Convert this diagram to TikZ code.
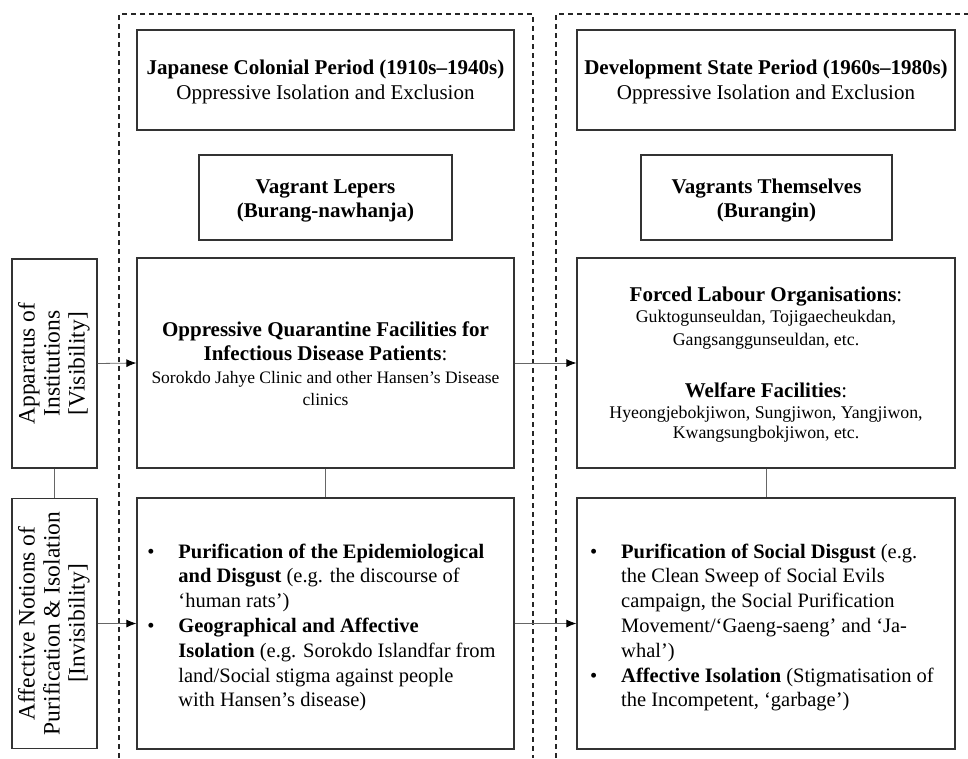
\documentclass[tikz,border=0pt]{standalone}
\usepackage{fontspec}
\setmainfont{Liberation Serif}
\usetikzlibrary{arrows.meta}
\newcommand\lowered[2]{\raisebox{-#1}[\height][\depth]{#2}}
\begin{document}
\begin{tikzpicture}[x=1pt,y=-1pt,
  box/.style={draw=black!80, line width=1.2pt, inner sep=0pt, align=center, text=black},
  link/.style={draw=black!60, line width=0.8pt},
  arr/.style={link, -{Latex[length=10pt,width=8pt,color=black]}},
  frame/.style={draw=black!85, line width=1.1pt, dash pattern=on 5pt off 4pt},
  big/.style={font=\fontsize{21}{24.5}\selectfont},
  side/.style={font=\fontsize{23.5}{25}\selectfont},
]
\useasboundingbox (0,0) rectangle (968,758);
% dashed period frames
\draw[frame] (119,758) -- (119,14) -- (533,14) -- (533,758);
\draw[frame] (556,758) -- (556,14) -- (968,14);

% side labels (rotated)
\node[box, side, rotate=90, minimum width=209, minimum height=85] (apL) at (54.5,363.5)
  {\begin{tabular}{@{}c@{}}Apparatus of\\ Institutions\\ {[}Visibility{]}\end{tabular}};
\node[box, side, rotate=90, minimum width=250, minimum height=85] (afL) at (54.5,623.5)
  {\begin{tabular}{@{}c@{}}Affective Notions of\\ Purification \& Isolation\\ {[}Invisibility{]}\end{tabular}};

% left period
\node[box, big, minimum width=377, minimum height=100] (tL) at (325.5,80)
  {\lowered{2pt}{\begin{tabular}{@{}c@{}}\textbf{Japanese Colonial Period (1910s–1940s)}\\ Oppressive Isolation and Exclusion\end{tabular}}};
\node[box, big, minimum width=253, minimum height=85] (vL) at (325.5,197.5)
  {\lowered{3pt}{\begin{tabular}{@{}c@{}}\textbf{Vagrant Lepers}\\ \textbf{(Burang-nawhanja)}\end{tabular}}};
\node[box, big, minimum width=377, minimum height=210] (mL) at (325.5,363)
  {\lowered{3pt}{\begin{tabular}{@{}c@{}}\textbf{Oppressive Quarantine Facilities for}\\ \textbf{Infectious Disease Patients}:\\[-2pt]
   {\fontsize{17.5}{22}\selectfont Sorokdo Jahye Clinic and other Hansen’s Disease}\\[-2pt]
   {\fontsize{17.5}{22}\selectfont clinics}\end{tabular}}};
\node[box, minimum width=377, minimum height=251] (bL) at (325.5,623.5)
  {\lowered{4pt}{\fontsize{20.5}{24.8}\selectfont\begin{tabular}{@{}p{31pt}@{}l@{\hspace{8pt}}}
   \textbullet & \textbf{Purification of the Epidemiological}\\
   & \textbf{and Disgust} (e.g. the discourse of\\
   & ‘human rats’)\\
   \textbullet & \textbf{Geographical and Affective}\\
   & \textbf{Isolation} (e.g. Sorokdo Islandfar from\\
   & land/Social stigma against people\\
   & with Hansen’s disease)
   \end{tabular}}};

% right period
\node[box, big, minimum width=378, minimum height=100] (tR) at (766,80)
  {\lowered{2pt}{\begin{tabular}{@{}c@{}}\textbf{Development State Period (1960s–1980s)}\\ Oppressive Isolation and Exclusion\end{tabular}}};
\node[box, big, minimum width=251, minimum height=85] (vR) at (766.5,197.5)
  {\lowered{3pt}{\begin{tabular}{@{}c@{}}\textbf{Vagrants Themselves}\\ \textbf{(Burangin)}\end{tabular}}};
\node[box, big, minimum width=378, minimum height=210] (mR) at (766,363)
  {\lowered{2pt}{\begin{tabular}{@{}c@{}}\textbf{Forced Labour Organisations}:\\[-3pt]
   {\fontsize{17.8}{21}\selectfont Guktogunseuldan, Tojigaecheukdan,}\\[-2pt]
   {\fontsize{17.8}{21}\selectfont Gangsanggunseuldan, etc.}\\[28pt]
   \textbf{Welfare Facilities}:\\[-4pt]
   {\fontsize{17.8}{21}\selectfont Hyeongjebokjiwon, Sungjiwon, Yangjiwon,}\\[-4pt]
   {\fontsize{17.8}{21}\selectfont Kwangsungbokjiwon, etc.}\end{tabular}}};
\node[box, minimum width=378, minimum height=251] (bR) at (766,623.5)
  {\lowered{4pt}{\fontsize{20.5}{24.8}\selectfont\begin{tabular}{@{}p{31pt}@{}l@{\hspace{8pt}}}
   \textbullet & \textbf{Purification of Social Disgust} (e.g.\\
   & the Clean Sweep of Social Evils\\
   & campaign, the Social Purification\\
   & Movement/‘Gaeng-saeng’ and ‘Ja-\\
   & whal’)\\
   \textbullet & \textbf{Affective Isolation} (Stigmatisation of\\
   & the Incompetent, ‘garbage’)
   \end{tabular}}};

% connectors
\draw[link] (apL.west) -- (afL.east);
\draw[link] (mL) -- (bL);
\draw[link] (mR) -- (bR);
\draw[arr] (apL.south) -- (mL.west);
\draw[arr] (afL.south) -- (bL.west);
\draw[arr] (mL.east) -- (mR.west);
\draw[arr] (bL.east) -- (bR.west);
\end{tikzpicture}
\end{document}
